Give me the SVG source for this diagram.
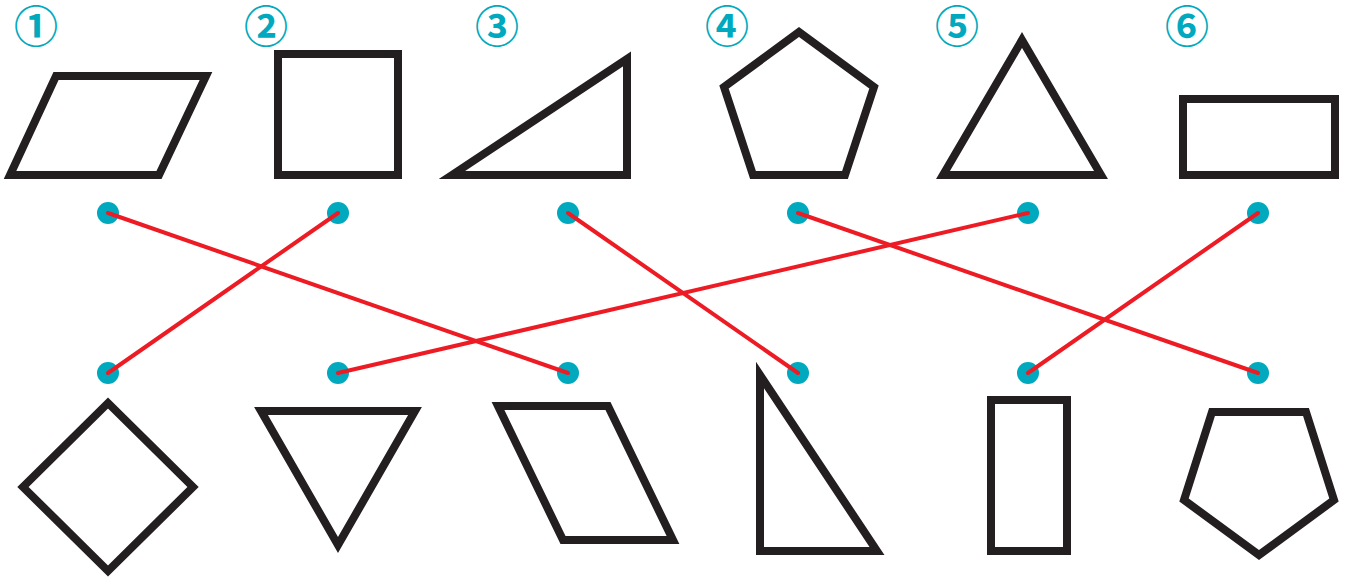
<svg xmlns="http://www.w3.org/2000/svg" width="1348" height="578" viewBox="0 0 1348 578">
<style>
.shape{fill:none;stroke:#231f20;stroke-width:8;stroke-linejoin:miter;stroke-miterlimit:10}
.dot{fill:#00a9bd}
.num{font-family:"Noto Sans CJK JP","Noto Sans",sans-serif;font-size:44px;font-weight:700;fill:#00a9bd;text-anchor:middle}
.conn line{stroke:#ed1c24;stroke-width:4;stroke-linecap:round}
</style>
<rect width="1348" height="578" fill="#fff"/>
<g id="labels">
<text class="num" x="36" y="43">①</text>
<text class="num" x="266" y="43">②</text>
<text class="num" x="497" y="43">③</text>
<text class="num" x="727" y="43">④</text>
<text class="num" x="957" y="43">⑤</text>
<text class="num" x="1187" y="43">⑥</text>
</g>
<g id="top-1"><polygon class="shape" points="56,76 206,76 159,175 10,175"/><circle class="dot" cx="108" cy="213" r="11"/></g>
<g id="top-2"><rect class="shape" x="278" y="54" width="120" height="121"/><circle class="dot" cx="338" cy="213" r="11"/></g>
<g id="top-3"><polygon class="shape" points="452,175 627,59 627,175"/><circle class="dot" cx="568" cy="213" r="11"/></g>
<g id="top-4"><polygon class="shape" points="799,32 874,87 845,175 753,175 724,87"/><circle class="dot" cx="798" cy="213" r="11"/></g>
<g id="top-5"><polygon class="shape" points="1022,40 1101,175 943,175"/><circle class="dot" cx="1028" cy="213" r="11"/></g>
<g id="top-6"><rect class="shape" x="1183" y="99" width="152" height="76"/><circle class="dot" cx="1258" cy="213" r="11"/></g>
<g id="bottom-1"><polygon class="shape" points="108,403 193,487 108,571 23,487"/><circle class="dot" cx="108" cy="373" r="11"/></g>
<g id="bottom-2"><polygon class="shape" points="261,411 415,411 338,545"/><circle class="dot" cx="338" cy="373" r="11"/></g>
<g id="bottom-3"><polygon class="shape" points="498,406 608,406 673,540 563,540"/><circle class="dot" cx="568" cy="373" r="11"/></g>
<g id="bottom-4"><polygon class="shape" points="760,375 877,551 760,551"/><circle class="dot" cx="798" cy="373" r="11"/></g>
<g id="bottom-5"><rect class="shape" x="991" y="400" width="76" height="151"/><circle class="dot" cx="1028" cy="373" r="11"/></g>
<g id="bottom-6"><polygon class="shape" points="1212,412 1306,412 1334,500 1259,555 1184,500"/><circle class="dot" cx="1258" cy="373" r="11"/></g>
<g id="connectors" class="conn">
<line x1="108" y1="213" x2="568" y2="373"/>
<line x1="338" y1="213" x2="108" y2="373"/>
<line x1="568" y1="213" x2="798" y2="373"/>
<line x1="798" y1="213" x2="1258" y2="373"/>
<line x1="1028" y1="213" x2="338" y2="373"/>
<line x1="1258" y1="213" x2="1028" y2="373"/>
</g>
</svg>
